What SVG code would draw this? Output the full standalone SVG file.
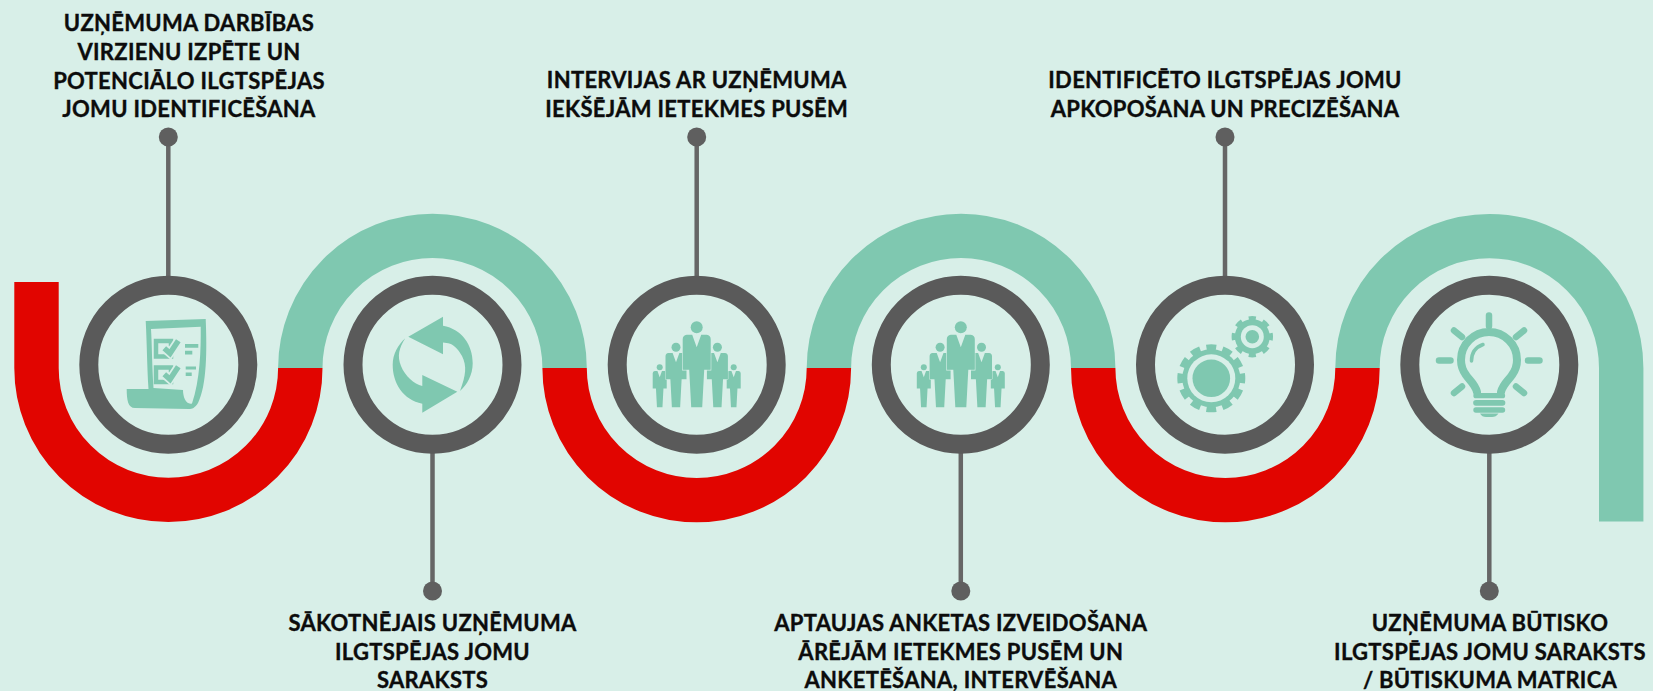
<svg xmlns="http://www.w3.org/2000/svg" xmlns:xlink="http://www.w3.org/1999/xlink" width="1653" height="691" viewBox="0 0 1653 691">
<style>
.bg{fill:#d8efe8}
.red{fill:none;stroke:#e10500;stroke-width:44.4}
.teal{fill:none;stroke:#7fc8b0;stroke-width:44.4}
.ring{fill:none;stroke:#5a5a5a;stroke-width:19}
.stem{stroke:#666;stroke-width:4.5;fill:none}
.dot{fill:#5f5f5f}
.ic{fill:#7fc8b0}
.icl{fill:none;stroke:#7fc8b0;stroke-linecap:round}
.cut{fill:#d8efe8}
text{font-family:"Lato","Liberation Sans",sans-serif;font-weight:700;font-size:22px;fill:#0c0c0c;stroke:#0c0c0c;stroke-width:.35px;text-anchor:middle;letter-spacing:.3px}
</style>
<defs>
<g id="person">
<circle cx="0" cy="-80" r="6"/>
<path d="M-4.5,-72.5L0,-60L4.500,-72.500L10,-72.500Q14,-72 14,-68L14,-37.500L7.500,-37.500L5.500,0L-5.500,0L-7.500,-37.500L-14,-37.500L-14,-68Q-14,-72 -10,-72.500Z"/>
</g>
<g id="people" class="ic">
<use xlink:href="#person" href="#person" transform="translate(-37,0) scale(.5)"/>
<use xlink:href="#person" href="#person" transform="translate(37,0) scale(.5)"/>
<g stroke="#d8efe8" stroke-width="1.200" paint-order="stroke">
<use xlink:href="#person" href="#person" transform="translate(-20.700,0) scale(.75)"/>
<use xlink:href="#person" href="#person" transform="translate(20.700,0) scale(.75)"/>
<use xlink:href="#person" href="#person"/>
</g>
</g>
</defs>
<rect class="bg" width="1653" height="691"/>
<g id="wave">
<path class="red" d="M36.500,282V368A131.900,131.900 0 0 0 300.300,368"/>
<path class="teal" d="M300.300,368A132.150,132.150 0 0 1 564.600,368"/>
<path class="red" d="M564.600,368A132.150,132.150 0 0 0 828.900,368"/>
<path class="teal" d="M828.900,368A132.150,132.150 0 0 1 1093.200,368"/>
<path class="red" d="M1093.200,368A132.150,132.150 0 0 0 1357.500,368"/>
<path class="teal" d="M1357.500,368A131.850,131.850 0 0 1 1621.200,368V521.500"/>
</g>
<g id="connectors">
<line class="stem" x1="168.300" y1="137" x2="168.300" y2="280"/>
<line class="stem" x1="432.500" y1="450" x2="432.500" y2="591"/>
<line class="stem" x1="696.700" y1="137" x2="696.700" y2="280"/>
<line class="stem" x1="960.800" y1="450" x2="960.800" y2="591"/>
<line class="stem" x1="1225" y1="137" x2="1225" y2="280"/>
<line class="stem" x1="1489.300" y1="450" x2="1489.300" y2="591"/>
<circle class="dot" cx="168.300" cy="137" r="9.500"/>
<circle class="dot" cx="432.500" cy="591" r="9.500"/>
<circle class="dot" cx="696.700" cy="137" r="9.500"/>
<circle class="dot" cx="960.800" cy="591" r="9.500"/>
<circle class="dot" cx="1225" cy="137" r="9.500"/>
<circle class="dot" cx="1489.300" cy="591" r="9.500"/>
</g>
<g id="node1">
<circle class="ring" cx="168.300" cy="364.700" r="79.500"/>
<path class="ic" fill-rule="evenodd" d="M145.700,321L205.700,319C207,350 207,385 198,403C195,408 192,409 189,409L135,408C128,408 126.700,400 126.700,389L148.500,389C147,365 147,345 145.700,321ZM151,329L200.700,326.700C201,350 200,380 192,403.500C186,405 183,397 183,390L153.500,388C152,365 152,345 151,329Z"/>
<path class="ic" d="M185,344H198.300V347.700H185ZM185,350.700H192.300V354.400H185ZM185.700,366.400H196V369.600H185.700ZM185.700,372.400H191.700V376H185.700Z"/>
<path d="M156,341H171V356.500H156ZM156,367.500H171V382H156Z" fill="none" stroke="#7fc8b0" stroke-width="4.500"/>
<path d="M164.300,348.300L170,353.300L178.300,340.700M164.300,374.300L170,379.300L178.300,366.700" fill="none" stroke="#d8efe8" stroke-width="9"/>
<path d="M164.300,348.300L170,353.300L178.300,340.700M164.300,374.300L170,379.300L178.300,366.700" fill="none" stroke="#7fc8b0" stroke-width="5.500"/>
<text x="189" y="30.700">UZŅĒMUMA DARBĪBAS</text>
<text x="189" y="60">VIRZIENU IZPĒTE UN</text>
<text x="189" y="88.500">POTENCIĀLO ILGTSPĒJAS</text>
<text x="189" y="117">JOMU IDENTIFICĒŠANA</text>
</g>
<g id="node2">
<circle class="ring" cx="432.500" cy="364.700" r="79.500"/>
<path class="ic" d="M408.300,336.700L443,316.700V325.700C462,329 472.700,345 472.700,363.300C472.700,375 467,385 460,391C466,375 467,366 462,356C458,349 453,344 448.300,343.300L443,342.500V354.300Z"/>
<path class="ic" d="M457.300,391.700L422.300,412.700V403.700C403,400 392.700,383 392.700,365C392.700,354 398,345 405.300,338.300C399,348 397,356 401,366C405,376 414,384 422.300,386V375Z"/>
<text x="432.500" y="631">SĀKOTNĒJAIS UZŅĒMUMA</text>
<text x="432.500" y="660">ILGTSPĒJAS JOMU</text>
<text x="432.500" y="688">SARAKSTS</text>
</g>
<g id="node3">
<circle class="ring" cx="696.700" cy="364.700" r="79.500"/>
<use xlink:href="#people" href="#people" x="696.700" y="407.300"/>
<text x="696.700" y="88">INTERVIJAS AR UZŅĒMUMA</text>
<text x="696.700" y="117">IEKŠĒJĀM IETEKMES PUSĒM</text>
</g>
<g id="node4">
<circle class="ring" cx="960.800" cy="364.700" r="79.500"/>
<use xlink:href="#people" href="#people" x="960.800" y="407.300"/>
<text x="960.800" y="631">APTAUJAS ANKETAS IZVEIDOŠANA</text>
<text x="960.800" y="660">ĀRĒJĀM IETEKMES PUSĒM UN</text>
<text x="960.800" y="688">ANKETĒŠANA, INTERVĒŠANA</text>
</g>
<g id="node5">
<circle class="ring" cx="1225" cy="364.700" r="79.500"/>
<circle class="ic" cx="1211.300" cy="378.300" r="29"/>
<circle cx="1211.300" cy="378.300" r="31" fill="none" stroke="#7fc8b0" stroke-width="6" pathLength="12" stroke-dasharray=".6 .4" stroke-dashoffset=".3"/>
<circle class="cut" cx="1211.300" cy="378.300" r="24"/>
<circle class="ic" cx="1211.300" cy="378.300" r="18.800"/>
<circle class="ic" cx="1252.300" cy="336.700" r="17.500"/>
<circle cx="1252.300" cy="336.700" r="18.700" fill="none" stroke="#7fc8b0" stroke-width="4" pathLength="8" stroke-dasharray=".5 .5" stroke-dashoffset=".25"/>
<circle class="cut" cx="1252.300" cy="336.700" r="11.500"/>
<circle class="ic" cx="1252.300" cy="336.700" r="6.800"/>
<text x="1225" y="88">IDENTIFICĒTO ILGTSPĒJAS JOMU</text>
<text x="1225" y="117">APKOPOŠANA UN PRECIZĒŠANA</text>
</g>
<g id="node6">
<circle class="ring" cx="1489.300" cy="364.700" r="79.500"/>
<path class="icl" stroke-width="6.500" d="M1489,315.500V326M1439,360.500H1450.500M1528,360.500H1539.500M1454,330.500L1462,337M1524,330.500L1516,337M1454,393L1462,386.500M1524,393L1516,386.500"/>
<path class="icl" stroke-width="8" d="M1477,392C1475,384 1469,380 1466,375C1463,371 1461,366 1461,360A28,28 0 0 1 1517,360C1517,366 1515,371 1512,375C1509,380 1503,384 1501,392"/>
<path class="icl" stroke-width="3.500" d="M1471.500,361C1471.500,353 1476,347 1483,344.500"/>
<path class="ic" d="M1476,393H1502.500a2.500,2.500 0 0 1 0,5.300H1476a2.500,2.500 0 0 1 0,-5.300ZM1476,400H1502.500a2.800,2.800 0 0 1 0,5.700H1476a2.800,2.800 0 0 1 0,-5.700ZM1476,407.300H1502.500a2.700,2.700 0 0 1 0,5.400H1476a2.700,2.700 0 0 1 0,-5.400ZM1480,413.500H1498.500Q1496,417 1492,417H1486Q1482,417 1480,413.500Z"/>
<text x="1490" y="631">UZŅĒMUMA BŪTISKO</text>
<text x="1490" y="660">ILGTSPĒJAS JOMU SARAKSTS</text>
<text x="1490" y="688">/ BŪTISKUMA MATRICA</text>
</g>
</svg>
